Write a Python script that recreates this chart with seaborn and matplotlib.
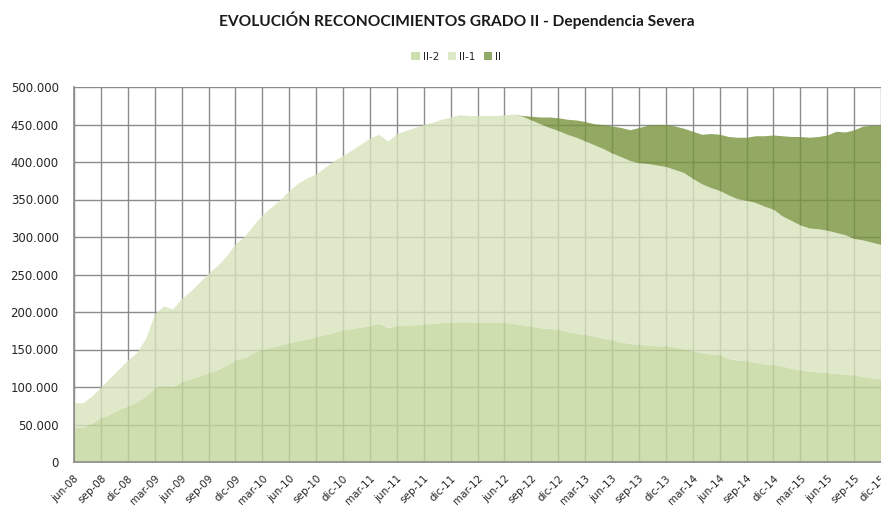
import numpy as np
import pandas as pd
import seaborn as sns
import matplotlib.pyplot as plt
from matplotlib.ticker import FuncFormatter, MultipleLocator
from matplotlib.patches import Patch

# --- Data (thousands of people, monthly jun-08 .. dic-15) ---
MESES = ['ene', 'feb', 'mar', 'abr', 'may', 'jun', 'jul', 'ago', 'sep', 'oct', 'nov', 'dic']
START_YEAR, START_MONTH, N_MONTHS = 2008, 6, 91

grado_ii_2 = [46, 46, 52, 59, 64, 70, 75, 80, 88, 99, 102, 101, 107, 111, 115, 119, 123, 129,
              136, 139, 146, 150, 153, 156, 159, 162, 164, 167, 170, 173, 176, 178, 180, 182,
              185, 179, 182, 183, 183, 184, 185, 186, 186, 187, 187, 186, 186, 186, 186, 185,
              183, 181, 179, 178, 177, 174, 172, 170, 168, 165, 163, 160, 158, 157, 156, 155,
              155, 153, 151, 148, 146, 144, 143, 138, 136, 135, 133, 131, 130, 128, 125, 123,
              121, 120, 119, 118, 117, 116, 114, 112, 111]
grado_ii_1 = [33, 33, 36, 41, 48, 54, 61, 66, 77, 99, 106, 103, 111, 117, 125, 133, 139, 146,
              155, 162, 170, 180, 187, 194, 203, 210, 215, 217, 223, 229, 233, 238, 244, 250,
              252, 249, 256, 259, 263, 266, 268, 271, 274, 276, 275, 276, 276, 276, 277, 279,
              278, 275, 272, 268, 265, 263, 261, 258, 255, 253, 249, 247, 244, 242, 242, 241,
              239, 237, 235, 230, 225, 222, 219, 218, 215, 214, 213, 210, 207, 200, 197, 193,
              191, 191, 190, 188, 186, 182, 182, 181, 179]
grado_ii = [0] * 50 + [1, 5, 9, 14, 17, 20, 23, 26, 28, 32, 36, 39, 41, 47, 51, 54, 56, 58, 59,
                       63, 66, 72, 75, 78, 82, 84, 89, 94, 99, 107, 112, 118, 121, 123, 127, 135,
                       137, 145, 152, 156, 159]

SERIES = ['II-2', 'II-1', 'II']
COLORS = ['#C3D69B', '#D7E4BC', '#77933C']
# -----------------------------------------------------------


def month_label(i):
    m = (START_MONTH - 1 + i) % 12
    y = START_YEAR + (START_MONTH - 1 + i) // 12
    return f"{MESES[m]}-{y % 100:02d}"


def plot_grado_ii():
    df = pd.DataFrame({
        'mes': range(N_MONTHS),
        'II-2': np.array(grado_ii_2) * 1000,
        'II-1': np.array(grado_ii_1) * 1000,
        'II': np.array(grado_ii) * 1000,
    })

    sns.set_theme(style="white")
    plt.rcParams['font.family'] = ['DejaVu Sans']

    fig = plt.figure(figsize=(8.81, 5.05), dpi=100)
    ax = fig.add_axes([74 / 881, 43 / 505, 1 - 74 / 881, 375 / 505])

    ax.stackplot(df['mes'], [df[s] for s in SERIES], colors=COLORS, alpha=0.8,
                 linewidth=0, zorder=3)

    ax.set_xlim(0, N_MONTHS - 1)
    ax.set_ylim(0, 500000)
    ax.yaxis.set_major_locator(MultipleLocator(50000))
    ax.yaxis.set_major_formatter(FuncFormatter(lambda v, p: f"{int(v):,}".replace(",", ".")))
    ticks = list(range(0, N_MONTHS, 3))
    ax.set_xticks(ticks)
    ax.set_xticklabels([month_label(i) for i in ticks], rotation=45, ha='right',
                       rotation_mode='anchor', fontsize=7.5, color='#262626')
    ax.tick_params(axis='y', labelsize=8.5, colors='#262626', length=0, pad=11)
    ax.tick_params(axis='x', length=0, pad=8)

    ax.grid(True, color='#8c8c8c', linewidth=1)
    ax.set_axisbelow(True)
    for side in ['top', 'right']:
        ax.spines[side].set_visible(False)
    for side in ['left', 'bottom']:
        ax.spines[side].set_color('#8c8c8c')
        ax.spines[side].set_linewidth(1.2)
        ax.spines[side].set_zorder(4)

    fig.text(0.518, 0.96, "EVOLUCIÓN RECONOCIMIENTOS GRADO II - Dependencia Severa",
             ha='center', va='center', fontsize=11.2, fontweight='bold',
             family=['Lato', 'DejaVu Sans'], color='#1a1a1a')

    handles = [Patch(facecolor=c, alpha=0.8, edgecolor='none') for c in COLORS]
    fig.legend(handles, SERIES, loc='center', bbox_to_anchor=(0.518, 0.887), ncol=3,
               frameon=False, fontsize=7.5, handlelength=0.8, handleheight=0.8,
               handletextpad=0.3, columnspacing=0.8)

    fig.savefig("out.png", dpi=100)
    plt.close(fig)


if __name__ == "__main__":
    plot_grado_ii()
